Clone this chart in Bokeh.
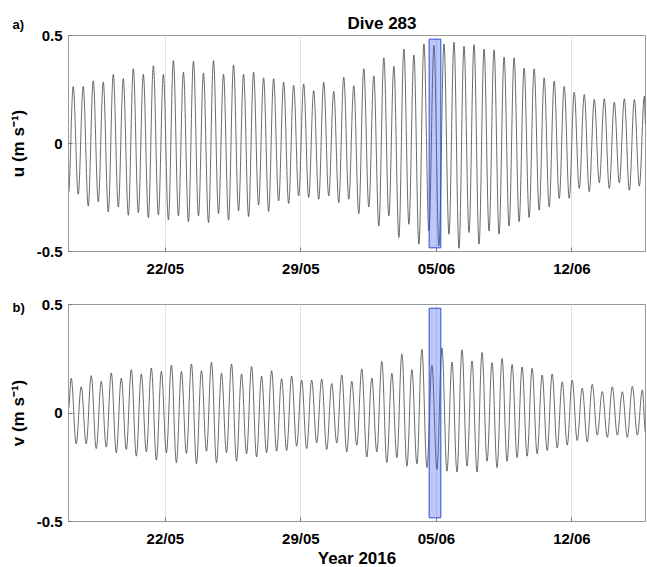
import pandas as pd
from bokeh.plotting import figure
from bokeh.layouts import column
from bokeh.models import (Range1d, FixedTicker, DatetimeTickFormatter, Title,
                          ColumnDataSource)
from bokeh.embed import file_html
from bokeh.resources import INLINE

# ---------------- data ----------------
record_start = "2016-05-17 00:00"
record_end = "2016-06-15 19:10"
tide_period_hours = 12.42
u_first_peak = "2016-05-17 05:50"
v_first_peak = "2016-05-17 03:20"
u_start, u_end = -0.23, 0.09
v_start, v_end = 0.02, -0.09

u_peaks = [0.264, 0.264, 0.29, 0.285, 0.32, 0.30, 0.346, 0.32, 0.36, 0.32,
           0.384, 0.33, 0.38, 0.327, 0.384, 0.32, 0.363, 0.32, 0.33, 0.304,
           0.30, 0.284, 0.27, 0.276, 0.245, 0.284,
           0.242, 0.307, 0.268, 0.346, 0.313, 0.397, 0.358, 0.437, 0.41, 0.461,
           0.454, 0.461, 0.469, 0.45, 0.458, 0.437, 0.434, 0.40, 0.397, 0.349,
           0.346, 0.304, 0.289, 0.264, 0.238, 0.227, 0.204, 0.207, 0.191, 0.207,
           0.204, 0.219]
u_troughs = [-0.235, -0.29, -0.27, -0.317, -0.294, -0.332, -0.32, -0.343, -0.331, -0.354,
             -0.335, -0.362, -0.335, -0.366, -0.325, -0.355, -0.312, -0.338, -0.285, -0.315,
             -0.266, -0.278, -0.243, -0.25, -0.258, -0.243,
             -0.274, -0.258, -0.325, -0.294, -0.382, -0.335, -0.435, -0.374, -0.466, -0.405,
             -0.474, -0.42, -0.485, -0.412, -0.466, -0.405, -0.42, -0.382, -0.362, -0.343,
             -0.309, -0.294, -0.254, -0.254, -0.208, -0.223, -0.182, -0.208, -0.182, -0.217,
             -0.197]
v_peaks = [0.161, 0.121, 0.172, 0.146, 0.184, 0.161, 0.20, 0.18, 0.207, 0.192,
           0.221, 0.192, 0.226, 0.195, 0.234, 0.183, 0.226, 0.18, 0.214, 0.17,
           0.195, 0.158, 0.17, 0.152, 0.152, 0.156,
           0.136, 0.175, 0.146, 0.203, 0.161, 0.238, 0.183, 0.272, 0.20, 0.293,
           0.22, 0.30, 0.235, 0.291, 0.24, 0.279, 0.232, 0.251, 0.223, 0.212,
           0.206, 0.175, 0.18, 0.144, 0.152, 0.115, 0.132, 0.099, 0.121, 0.098,
           0.122, 0.107]
v_troughs = [-0.142, -0.142, -0.164, -0.157, -0.183, -0.168, -0.199, -0.179, -0.217, -0.183,
             -0.229, -0.187, -0.234, -0.176, -0.229, -0.183, -0.222, -0.188, -0.202, -0.183,
             -0.176, -0.173, -0.153, -0.164, -0.138, -0.168,
             -0.138, -0.179, -0.148, -0.203, -0.179, -0.229, -0.206, -0.245, -0.234, -0.252,
             -0.26, -0.268, -0.272, -0.245, -0.272, -0.222, -0.252, -0.222, -0.206, -0.199,
             -0.188, -0.173, -0.161, -0.148, -0.127, -0.133, -0.102, -0.112, -0.102, -0.112,
             -0.102]

dive_start = "2016-06-04 15:00"
dive_end = "2016-06-05 05:30"
dive_bottom, dive_top = -0.483, 0.483

tick_dates = ["2016-05-22", "2016-05-29", "2016-06-05", "2016-06-12"]
tick_labels = ["22/05", "29/05", "05/06", "12/06"]
y_ticks = [-0.5, 0, 0.5]
y_tick_labels = ["-0.5", "0", "0.5"]

# ---------------- build ----------------
FONT = "Liberation Sans"
CTRL = 0.363  # cubic-Bezier handle length giving a sinusoid-like swing


def ms(s):
    return pd.Timestamp(s).value / 1e6


def build_series(start_val, end_val, first_peak, peaks, troughs):
    per = pd.Timedelta(hours=tide_period_hours)
    tp = pd.Timestamp(first_peak)
    times = [pd.Timestamp(record_start)]
    vals = [start_val]
    for i, pk in enumerate(peaks):
        times.append(tp + i * per)
        vals.append(pk)
        if i < len(troughs):
            times.append(tp + (i + 0.5) * per)
            vals.append(troughs[i])
    times.append(pd.Timestamp(record_end))
    vals.append(end_val)
    x = [t.value / 1e6 for t in times]
    x0, x1, y0, y1 = x[:-1], x[1:], vals[:-1], vals[1:]
    return ColumnDataSource(dict(
        x0=x0, y0=y0, x1=x1, y1=y1,
        cx0=[a + CTRL * (b - a) for a, b in zip(x0, x1)], cy0=y0,
        cx1=[b - CTRL * (b - a) for a, b in zip(x0, x1)], cy1=y1))


def make_panel(ylabel, src, height, top, bottom):
    p = figure(width=647, height=height, x_axis_type="datetime",
               output_backend="svg", toolbar_location=None,
               x_range=Range1d(pd.Timestamp(record_start), pd.Timestamp(record_end)),
               y_range=Range1d(-0.5, 0.5),
               min_border_left=68, min_border_right=2,
               min_border_top=top, min_border_bottom=bottom)
    p.outline_line_color = "#9a9a9a"
    p.outline_line_width = 1
    p.background_fill_color = "white"
    p.border_fill_color = "white"

    p.bezier(x0="x0", y0="y0", x1="x1", y1="y1", cx0="cx0", cy0="cy0",
             cx1="cx1", cy1="cy1", source=src, line_color="#3a3a3a", line_width=0.75)
    p.quad(left=[pd.Timestamp(dive_start)], right=[pd.Timestamp(dive_end)],
           bottom=[dive_bottom], top=[dive_top],
           fill_color="#3050f0", fill_alpha=0.32,
           line_color="#3448d8", line_width=1)

    xt = [ms(d) for d in tick_dates]
    p.xaxis.ticker = FixedTicker(ticks=xt)
    p.xaxis.major_label_overrides = {k: lab for k, lab in zip(xt, tick_labels)}
    p.xaxis.formatter = DatetimeTickFormatter(days="%d/%m", months="%d/%m",
                                              hours="%d/%m", years="%d/%m")
    p.yaxis.ticker = FixedTicker(ticks=y_ticks)
    p.yaxis.major_label_overrides = {k: lab for k, lab in zip(y_ticks, y_tick_labels)}
    p.xgrid.ticker = FixedTicker(ticks=xt)
    p.ygrid.ticker = FixedTicker(ticks=y_ticks)
    p.grid.grid_line_color = "#e3e3e3"
    p.grid.grid_line_width = 1

    for ax in (p.xaxis[0], p.yaxis[0]):
        ax.axis_line_color = "#9a9a9a"
        ax.major_tick_line_color = "#777777"
        ax.major_tick_in = 4
        ax.major_tick_out = 0
        ax.minor_tick_line_color = None
        ax.major_label_text_font = FONT
        ax.major_label_text_font_style = "bold"
        ax.major_label_text_font_size = "15px"
        ax.major_label_text_color = "black"
        ax.axis_label_text_font = FONT
        ax.axis_label_text_font_style = "bold"
        ax.axis_label_text_font_size = "17px"
        ax.axis_label_text_color = "black"
    p.yaxis.major_label_standoff = 6
    p.xaxis.major_label_standoff = 8
    p.yaxis.axis_label = ylabel
    p.yaxis.axis_label_standoff = 6
    return p


u_src = build_series(u_start, u_end, u_first_peak, u_peaks, u_troughs)
v_src = build_series(v_start, v_end, v_first_peak, v_peaks, v_troughs)

p1 = make_panel("u (m s\u207b\u00b9)", u_src, 290, 35, 39)
p2 = make_panel("v (m s\u207b\u00b9)", v_src, 277, 14, 46)

p1.add_layout(Title(text="Dive 283", align="left", offset=279, standoff=5,
                    text_font=FONT, text_font_style="bold", text_font_size="17px",
                    text_color="black"), "above")
p1.add_layout(Title(text="a)", align="left", offset=-56, standoff=-45,
                    text_font=FONT, text_font_style="bold", text_font_size="13px",
                    text_color="black"), "above")
p2.add_layout(Title(text="b)", align="left", offset=-56, standoff=-21,
                    text_font=FONT, text_font_style="bold", text_font_size="13px",
                    text_color="black"), "above")
p2.add_layout(Title(text="Year 2016", align="center", vertical_align="middle",
                    text_baseline="top", standoff=-3,
                    text_font=FONT, text_font_style="bold", text_font_size="17px",
                    text_color="black"), "below")

layout = column(p1, p2, spacing=0)
open("out.html", "w").write(file_html(layout, INLINE))
